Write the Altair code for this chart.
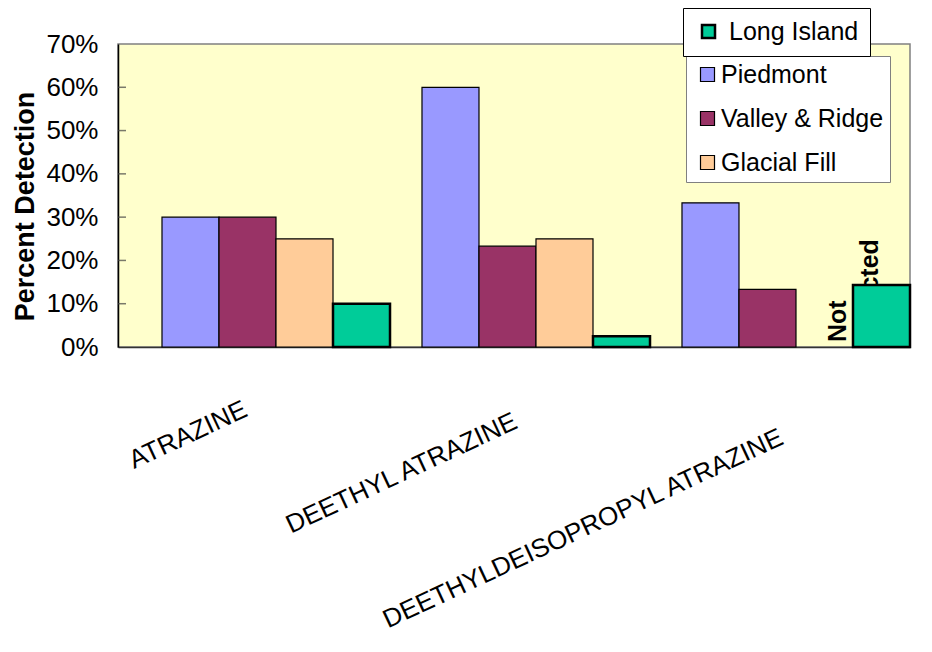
import altair as alt
import pandas as pd

categories = ["ATRAZINE", "DEETHYL ATRAZINE", "DEETHYLDEISOPROPYL ATRAZINE"]
series = ["Piedmont", "Valley & Ridge", "Glacial Fill", "Long Island"]
piedmont = [0.30, 0.60, 0.333]
valley_ridge = [0.30, 0.233, 0.133]
glacial_fill = [0.25, 0.25, None]
long_island = [0.10, 0.025, 0.143]
colors = ["#9999FF", "#993366", "#FFCC99", "#00CC99"]
y_ticks = [0.0, 0.1, 0.2, 0.3, 0.4, 0.5, 0.6, 0.7]
note_text = "Not\ndetected"
note_category = "DEETHYLDEISOPROPYL ATRAZINE"
note_slot = "Glacial Fill"

rows = []
for s, vals in zip(series, [piedmont, valley_ridge, glacial_fill, long_island]):
    for c, v in zip(categories, vals):
        if v is not None:
            rows.append({"category": c, "series": s, "value": v})
df = pd.DataFrame(rows)
main_df = df[df["series"] != "Long Island"]
li_df = df[df["series"] == "Long Island"]
note_df = pd.DataFrame([{"category": note_category, "series": note_slot, "value": 0.0, "note": note_text}])
tick_df = pd.DataFrame({"value": y_ticks[1:-1]})

FONT = "Liberation Sans"

x_enc = alt.X(
    "category:N",
    sort=categories,
    title=None,
    scale=alt.Scale(paddingInner=0.123, paddingOuter=0.0846, align=1),
    axis=alt.Axis(
        labelAngle=-25,
        labelAlign="right",
        labelBaseline="top",
        labelFont=FONT,
        labelFontSize=26,
        labelColor="black",
        labelLimit=700,
        labelOverlap=False,
        ticks=False,
        tickSize=0,
        labelPadding={
            "condition": [
                {"test": "datum.value === 'ATRAZINE'", "value": 49},
                {"test": "datum.value === 'DEETHYL ATRAZINE'", "value": 61},
            ],
            "value": 77,
        },
        labelOffset={
            "condition": [
                {"test": "datum.value === 'ATRAZINE'", "value": -36},
                {"test": "datum.value === 'DEETHYL ATRAZINE'", "value": -26},
            ],
            "value": -20,
        },
        domainColor="#333333",
        domainWidth=1.5,
    ),
)
xo_enc = alt.XOffset(
    "series:N",
    sort=series,
    scale=alt.Scale(domain=series, paddingInner=0, paddingOuter=0),
)
y_enc = alt.Y(
    "value:Q",
    title="Percent Detection",
    scale=alt.Scale(domain=[0, 0.7], nice=False),
    axis=alt.Axis(
        values=y_ticks,
        format=".0%",
        labelFont=FONT,
        labelFontSize=26,
        labelColor="black",
        labelPadding=20,
        ticks=False,
        tickSize=0,
        grid=False,
        domainColor="black",
        domainWidth=1.5,
        titleFont=FONT,
        titleFontSize=27,
        titleFontWeight="bold",
        titleColor="black",
        titleAngle=270,
        titleAlign="center",
        titleBaseline="middle",
        titleX=-93,
        titleY=162,
    ),
)

main_bars = alt.Chart(main_df).mark_bar(stroke="black", strokeWidth=1.2).encode(
    x=x_enc,
    xOffset=xo_enc,
    y=y_enc,
    color=alt.Color(
        "series:N",
        scale=alt.Scale(domain=series[:3], range=colors[:3]),
        legend=alt.Legend(
            title=None,
            orient="none",
            legendX=568,
            legendY=12,
            padding=6,
            symbolOffset=3,
            rowPadding=18,
            labelFont=FONT,
            labelFontSize=25,
            labelColor="black",
            labelLimit=400,
            labelOffset=1,
            symbolType="square",
            symbolSize=196,
            symbolStrokeColor="black",
            symbolStrokeWidth=1.2,
            symbolOpacity=1,
            strokeColor="#808080",
            fillColor="white",
        ),
    ),
)

note = alt.Chart(note_df).mark_text(
    angle=270,
    align="left",
    baseline="top",
    lineBreak="\n",
    font=FONT,
    fontSize=25,
    fontWeight="bold",
    lineHeight=32,
    dx=5,
    dy=2,
    color="black",
).encode(x=x_enc, xOffset=xo_enc, y=y_enc, text="note:N")

li_bars = alt.Chart(li_df).mark_bar(stroke="black", strokeWidth=2.5).encode(
    x=x_enc,
    xOffset=xo_enc,
    y=y_enc,
    color=alt.Color(
        "series:N",
        scale=alt.Scale(domain=[series[3]], range=[colors[3]]),
        legend=alt.Legend(
            title=None,
            orient="none",
            legendX=565,
            legendY=-36,
            padding=11,
            symbolOffset=2,
            labelFont=FONT,
            labelFontSize=25,
            labelColor="black",
            labelLimit=400,
            labelOffset=8,
            symbolType="square",
            symbolSize=169,
            symbolStrokeColor="black",
            symbolStrokeWidth=2.5,
            symbolOpacity=1,
            strokeColor="black",
            fillColor="white",
        ),
    ),
)

inner_ticks = alt.Chart(tick_df).mark_tick(
    color="#404040", thickness=1.5, size=8, orient="horizontal"
).encode(y=y_enc, x=alt.value(4))

chart = (
    alt.layer(main_bars, note, li_bars, inner_ticks)
    .resolve_scale(color="independent")
    .properties(
        width=792,
        height=303,
        autosize=alt.AutoSizeParams(type="none"),
        padding={"left": 110, "top": 36, "right": 14, "bottom": 290},
        background="white",
    )
    .configure_view(fill="#FFFFCC", stroke="#808080", strokeWidth=1.5)
)

chart.save("out.html", embed_options={"renderer": "svg", "actions": False})
